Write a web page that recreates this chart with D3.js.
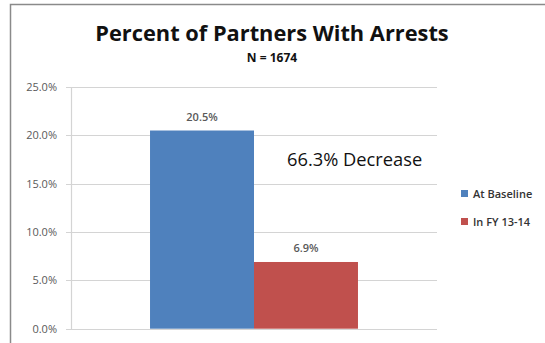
<!DOCTYPE html>
<html>
<head>
<meta charset="utf-8">
<script src="https://cdn.jsdelivr.net/npm/d3@7"></script>
<style>
  body { margin: 0; background: #fff; }
  text { font-family: "Open Sans", "Liberation Sans", sans-serif; }
</style>
</head>
<body>
<div id="vis"></div>
<script>
// chart data
let categories = ["Partners"];
let seriesNames = ["At Baseline", "In FY 13-14"];
let seriesValues = [20.5, 6.9];
let seriesColors = ["#4f81bd", "#c0504d"];
let yTicks = [0, 5, 10, 15, 20, 25];

let W = 545, H = 343;
let margin = { top: 87, left: 71, right: 108, bottom: 15 };
let width = W - margin.left - margin.right,
    height = H - margin.top - margin.bottom;

let svg = d3.select('#vis')
  .append('svg')
  .attr('width', W)
  .attr('height', H);

// outer frame (top and left edges)
svg.append('path')
  .attr('d', 'M10.5,' + H + ' V4.5 H' + W)
  .attr('fill', 'none')
  .attr('stroke', '#8a8a8a')
  .attr('stroke-width', 1.5);

// titles
svg.append('text')
  .attr('x', 272).attr('y', 41)
  .attr('text-anchor', 'middle')
  .style('font-size', '21.8px')
  .style('font-weight', 'bold')
  .attr('fill', '#111')
  .text('Percent of Partners With Arrests');

svg.append('text')
  .attr('x', 272).attr('y', 62)
  .attr('text-anchor', 'middle')
  .style('font-size', '12px')
  .style('font-weight', 'bold')
  .attr('fill', '#111')
  .text('N = 1674');

let g = svg.append('g')
  .attr('transform', 'translate(' + margin.left + ',' + margin.top + ')');

let yScale = d3.scaleLinear()
  .domain([0, 25])
  .range([height + 0.7, 0]);

let xScale = d3.scaleBand()
  .domain(categories)
  .range([0, width])
  .paddingInner(0)
  .paddingOuter(0.38);

let xSub = d3.scaleBand()
  .domain(seriesNames)
  .range([0, xScale.bandwidth()]);

// gridlines
g.append('g')
  .selectAll('line')
  .data(yTicks)
  .enter()
  .append('line')
    .attr('x1', -5)
    .attr('x2', width)
    .attr('y1', d => Math.round(yScale(d)) + 0.5)
    .attr('y2', d => Math.round(yScale(d)) + 0.5)
    .attr('stroke', '#d4d4d4')
    .attr('stroke-width', 1.2);

// y axis
let yAxis = g.append('g')
  .call(d3.axisLeft(yScale).tickValues(yTicks).tickSize(0).tickPadding(14)
    .tickFormat(d => d.toFixed(1) + '%'));
yAxis.select('.domain').attr('stroke', '#d4d4d4').attr('stroke-width', 1.2);
yAxis.selectAll('text')
  .style('font-size', '11px')
  .style('font-family', '"Open Sans", sans-serif')
  .attr('fill', '#595959');

// bars
let rows = seriesNames.map((s, i) => ({ key: s, value: seriesValues[i], color: seriesColors[i] }));
let groupX = xScale(categories[0]);

g.selectAll('rect.bar')
  .data(rows)
  .enter()
  .append('rect')
    .attr('class', 'bar')
    .attr('x', d => groupX + xSub(d.key))
    .attr('y', d => yScale(d.value))
    .attr('width', xSub.bandwidth())
    .attr('height', d => yScale(0) - yScale(d.value))
    .attr('fill', d => d.color);

// value labels
g.selectAll('text.val')
  .data(rows)
  .enter()
  .append('text')
    .attr('class', 'val')
    .attr('x', d => groupX + xSub(d.key) + xSub.bandwidth() / 2)
    .attr('y', d => yScale(d.value) - 10)
    .attr('text-anchor', 'middle')
    .style('font-size', '11px')
    .style('font-weight', '600')
    .attr('fill', '#595959')
    .text(d => d.value.toFixed(1) + '%');

// annotation
g.append('text')
  .attr('x', 216).attr('y', 79)
  .style('font-size', '18.3px')
  .attr('fill', '#111')
  .text('66.3% Decrease');

// legend
let legend = svg.append('g')
  .attr('transform', 'translate(461,188)');
let item = legend.selectAll('g')
  .data(rows)
  .enter()
  .append('g')
    .attr('transform', (d, i) => 'translate(0,' + i * 28 + ')');
item.append('rect')
  .attr('width', 7).attr('height', 7)
  .attr('y', 2)
  .attr('fill', d => d.color);
item.append('text')
  .attr('x', 12).attr('y', 9.5)
  .style('font-size', '11px')
  .style('font-weight', '600')
  .attr('fill', '#333')
  .text(d => d.key);
</script>
</body>
</html>
